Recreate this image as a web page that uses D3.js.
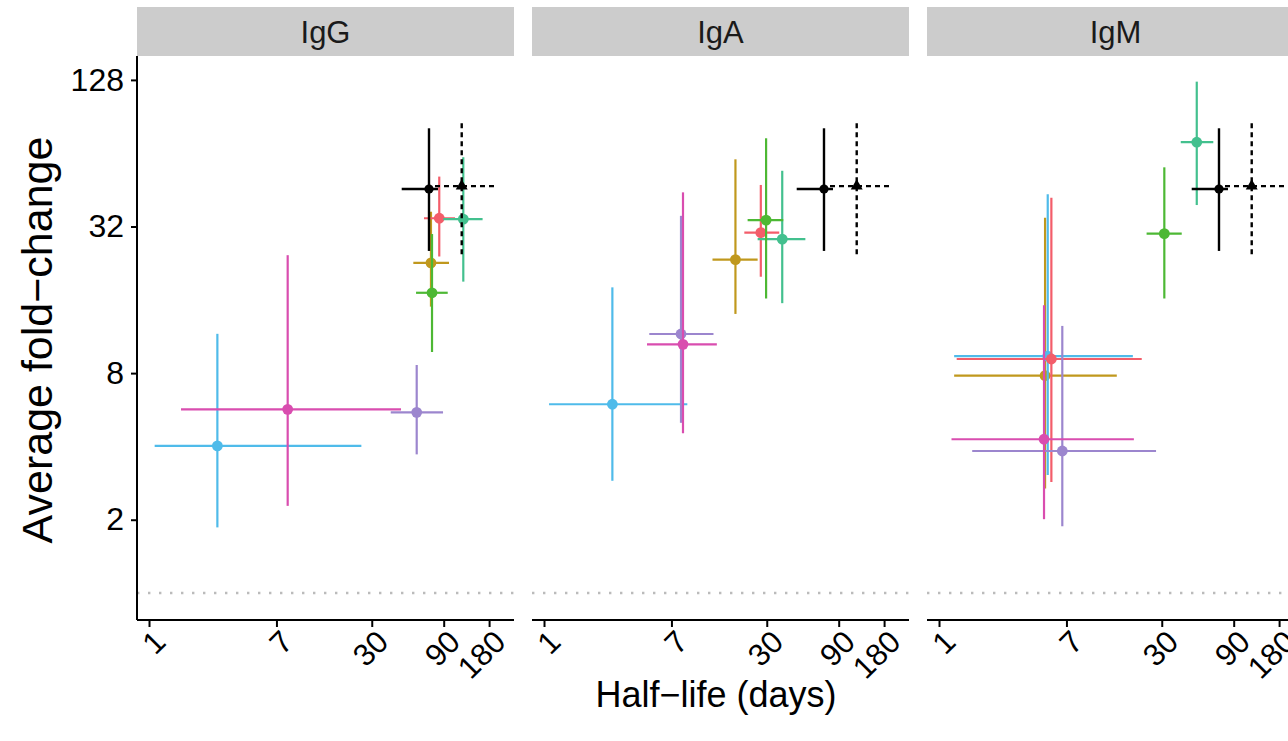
<!DOCTYPE html>
<html>
<head>
<meta charset="utf-8">
<script src="https://cdn.jsdelivr.net/npm/d3@7"></script>
<style>
  html, body { margin: 0; padding: 0; background: #ffffff; overflow: hidden; }
  svg { display: block; }
  svg text { font-family: "Liberation Sans", Arial, Helvetica, sans-serif; }
</style>
</head>
<body>
<svg id="chart" width="1288" height="741"></svg>
<script>
// Antibody isotypes shown as facets
const isotypes = ["IgG", "IgA", "IgM"];

// Groups and their colours
const groups = ["g1", "g2", "g3", "g4", "g5", "g6", "g7"];
const groupColors = ["#F35D6A", "#C0981D", "#4DB834", "#43C08E", "#4FBBEA", "#9C86CE", "#D94DAF"];
// drawing order (later on top)
const drawOrder = ["g2", "g5", "g1", "g4", "g6", "g3", "g7"];

// Half-life estimate (days) with interval, per isotype, in group order
const halfLife = {
  IgG: [84.1, 74.1, 75.3, 121.4, 2.84, 59.6, 8.31],
  IgA: [27.4, 18.6, 29.7, 38.0, 2.84, 8.10, 8.35],
  IgM: [5.56, 5.05, 31.2, 51.2, 5.26, 6.57, 4.97]
};
const halfLifeLow = {
  IgG: [66.6, 56.6, 59.0, 89.5, 1.09, 40.1, 1.63],
  IgA: [21.3, 13.1, 22.4, 26.1, 1.08, 4.99, 4.82],
  IgM: [1.31, 1.26, 23.8, 40.1, 1.26, 1.66, 1.21]
};
const halfLifeHigh = {
  IgG: [107, 97.6, 95.7, 163, 25.6, 89.1, 46.9],
  IgA: [36.3, 26.1, 38.6, 54.1, 8.92, 13.3, 14.0],
  IgM: [22.1, 15.1, 40.7, 65.9, 19.3, 27.5, 19.6]
};

// Average fold-change with interval, per isotype, in group order
const foldChange = {
  IgG: [34.6, 22.7, 17.1, 34.3, 4.02, 5.52, 5.68],
  IgA: [30.2, 23.4, 34.0, 28.4, 5.96, 11.58, 10.5],
  IgM: [9.14, 7.81, 29.9, 71.0, 9.40, 3.83, 4.28]
};
const foldChangeLow = {
  IgG: [24.1, 15.0, 9.77, 19.0, 1.86, 3.71, 2.28],
  IgA: [19.9, 14.0, 16.2, 15.5, 2.89, 5.0, 4.53],
  IgM: [2.86, 2.69, 16.2, 39.2, 3.05, 1.88, 2.01]
};
const foldChangeHigh = {
  IgG: [51.3, 36.8, 29.8, 61.6, 11.6, 8.64, 24.4],
  IgA: [47.4, 60.4, 73.7, 54.2, 18.0, 35.4, 44.2],
  IgM: [42.0, 34.8, 56.0, 125.9, 43.4, 12.5, 15.2]
};

// Reference estimates repeated in every facet: [x, xLow, xHigh, y, yLow, yHigh]
const refCircle   = [71.9, 47.4, 82.5, 45.6, 25.4, 81.0];
const refTriangle = [118.5, 78.8, 203, 46.9, 24.4, 84.9];

// Axis ticks
const xTicks = [1, 7, 30, 90, 180];
const yTicks = [2, 8, 32, 128];

// ---- layout ----
const panelLeft0 = 137, panelTop = 56, panelW = 377, panelH = 564, panelStep = 395;
const stripTop = 7, stripH = 49;
const fontFamily = "Liberation Sans, Arial, Helvetica, sans-serif";

const svg = d3.select("#chart");

const x = d3.scaleLog().domain([0.8324, 263.3]).range([0, panelW]);
const y = d3.scaleLog().base(2).domain([Math.pow(2, -0.368), Math.pow(2, 7.326)]).range([panelH, 0]);

const colorOf = d3.scaleOrdinal().domain(groups).range(groupColors);

isotypes.forEach((iso, pi) => {
  const left = panelLeft0 + pi * panelStep;
  const g = svg.append("g").attr("transform", `translate(${left},${panelTop})`);

  // strip
  svg.append("rect")
    .attr("x", left).attr("y", stripTop)
    .attr("width", panelW).attr("height", stripH)
    .attr("fill", "#CCCCCC");
  svg.append("text")
    .attr("x", left + panelW / 2).attr("y", stripTop + stripH / 2 + 1)
    .attr("text-anchor", "middle").attr("dominant-baseline", "central")
    .attr("font-size", 31).attr("fill", "#1a1a1a")
    .text(iso);

  // reference line at fold-change 1
  g.append("line")
    .attr("x1", 0).attr("x2", panelW)
    .attr("y1", y(1)).attr("y2", y(1))
    .attr("stroke", "#BBBBBB").attr("stroke-width", 2.4)
    .attr("stroke-dasharray", "2.4,8.6");

  // x axis
  const xAxis = d3.axisBottom(x).tickValues(xTicks).tickFormat(d3.format("d"))
    .tickSize(7).tickPadding(4);
  const xa = g.append("g").attr("transform", `translate(0,${panelH})`).call(xAxis)
    .attr("font-family", fontFamily);
  xa.select(".domain").attr("stroke", "#000").attr("stroke-width", 2).attr("d", `M0,0H${panelW}`);
  xa.selectAll(".tick line").attr("stroke", "#000").attr("stroke-width", 2);
  xa.selectAll(".tick text")
    .attr("font-size", 31).attr("fill", "#000")
    .attr("text-anchor", "end")
    .attr("dy", null).attr("y", null)
    .attr("dominant-baseline", "hanging")
    .attr("transform", "translate(2,8) rotate(-45)");

  // y axis only on the first facet
  if (pi === 0) {
    const yAxis = d3.axisLeft(y).tickValues(yTicks).tickFormat(d3.format("d"))
      .tickSize(6).tickPadding(7);
    const ya = g.append("g").call(yAxis).attr("font-family", fontFamily);
    ya.select(".domain").attr("stroke", "#000").attr("stroke-width", 2).attr("d", `M0,0V${panelH}`);
    ya.selectAll(".tick line").attr("stroke", "#000").attr("stroke-width", 2);
    ya.selectAll(".tick text").attr("font-size", 32).attr("fill", "#000");
  }

  // coloured estimates with intervals
  const rows = groups.map((grp, i) => ({
    grp,
    hx: halfLife[iso][i], hxl: halfLifeLow[iso][i], hxh: halfLifeHigh[iso][i],
    fy: foldChange[iso][i], fyl: foldChangeLow[iso][i], fyh: foldChangeHigh[iso][i]
  })).sort((a, b) => drawOrder.indexOf(a.grp) - drawOrder.indexOf(b.grp));

  rows.forEach(r => {
    const c = colorOf(r.grp);
    const gg = g.append("g");
    gg.append("line")
      .attr("x1", x(r.hxl)).attr("x2", x(r.hxh))
      .attr("y1", y(r.fy)).attr("y2", y(r.fy))
      .attr("stroke", c).attr("stroke-width", 2.2);
    gg.append("line")
      .attr("x1", x(r.hx)).attr("x2", x(r.hx))
      .attr("y1", y(r.fyl)).attr("y2", y(r.fyh))
      .attr("stroke", c).attr("stroke-width", 2.2);
    gg.append("circle")
      .attr("cx", x(r.hx)).attr("cy", y(r.fy)).attr("r", 5.4)
      .attr("fill", c);
  });

  // reference estimates (black)
  const ref = g.append("g");
  const [cx, cxl, cxh, cy, cyl, cyh] = refCircle;
  ref.append("line").attr("x1", x(cxl)).attr("x2", x(cxh)).attr("y1", y(cy)).attr("y2", y(cy))
    .attr("stroke", "#000").attr("stroke-width", 2.4);
  ref.append("line").attr("x1", x(cx)).attr("x2", x(cx)).attr("y1", y(cyl)).attr("y2", y(cyh))
    .attr("stroke", "#000").attr("stroke-width", 2.4);
  ref.append("circle").attr("cx", x(cx)).attr("cy", y(cy)).attr("r", 4.6).attr("fill", "#000");

  const [tx, txl, txh, ty, tyl, tyh] = refTriangle;
  ref.append("line").attr("x1", x(txl)).attr("x2", x(txh)).attr("y1", y(ty)).attr("y2", y(ty))
    .attr("stroke", "#000").attr("stroke-width", 2.4).attr("stroke-dasharray", "5,4");
  ref.append("line").attr("x1", x(tx)).attr("x2", x(tx)).attr("y1", y(tyh)).attr("y2", y(tyl))
    .attr("stroke", "#000").attr("stroke-width", 2.4).attr("stroke-dasharray", "5,4");
  ref.append("path")
    .attr("d", d3.symbol(d3.symbolTriangle, 62)())
    .attr("transform", `translate(${x(tx)},${y(ty)})`)
    .attr("fill", "#000");
});

// axis titles
svg.append("text")
  .attr("x", 716).attr("y", 707)
  .attr("text-anchor", "middle")
  .attr("font-size", 36).attr("fill", "#000")
  .text("Half\u2212life (days)");

svg.append("text")
  .attr("transform", `translate(52,${panelTop + panelH / 2 + 2}) rotate(-90)`)
  .attr("text-anchor", "middle")
  .attr("font-size", 43).attr("fill", "#000")
  .text("Average fold\u2212change");
</script>
</body>
</html>
